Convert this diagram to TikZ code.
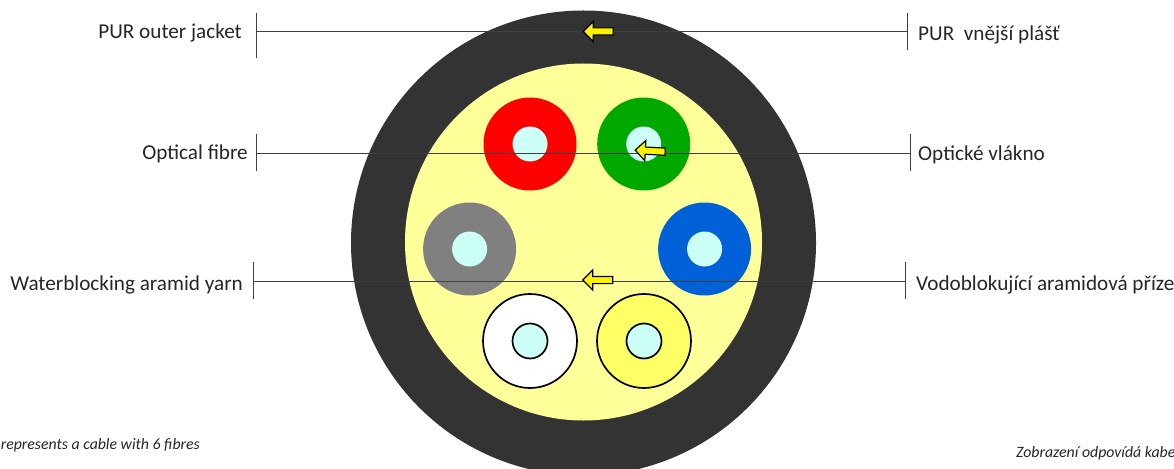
\documentclass[tikz,border=0pt]{standalone}
\usepackage{fontspec}
\setmainfont{Carlito}
\usepackage{xcolor}
\usepackage{tikz}
\usetikzlibrary{shapes.arrows}

\definecolor{jacketgrey}{HTML}{333333}
\definecolor{fillyellow}{HTML}{FFFF99}
\definecolor{coreblue}{HTML}{CCFFF5}
\definecolor{fibregreen}{HTML}{00A800}
\definecolor{fibregrey}{HTML}{808080}
\definecolor{fibreblue}{HTML}{0060D8}
\definecolor{fibreyellow}{HTML}{FFFF66}
\definecolor{leadgrey}{HTML}{404040}

\tikzset{
  disc/.style={circle, inner sep=0pt, minimum size=#1},
  fibre/.style={disc=93pt},
  ringed/.style={disc=94pt, draw=black, line width=1.7pt},
  core/.style={disc=35pt, fill=coreblue},
  ringedcore/.style={disc=35pt, fill=coreblue, draw=black, line width=1.7pt},
  label/.style={inner sep=0pt, font=\fontsize{21.2}{24}\selectfont, text=black!85},
  note/.style={inner sep=0pt, font=\itshape\fontsize{15.8}{19}\selectfont, text=black!85},
  lead/.style={leadgrey, line width=0.7pt},
  marker/.style={single arrow, draw=black, fill=yellow, line width=1.2pt, inner sep=3pt,
    minimum width=19pt, minimum height=30pt, single arrow head extend=6.5pt,
    single arrow tip angle=90, shape border rotate=180},
}

\begin{document}
\begin{tikzpicture}[x=1pt,y=-1pt]
  \useasboundingbox (0,0) rectangle (1174,468);
  \begin{scope}
    \clip (0,0) rectangle (1174,468);
    \node[disc=465pt, fill=jacketgrey] (jacket) at (583.5,243) {};
    \node[disc=357pt, fill=fillyellow] (filler) at (583.5,242) {};
  \end{scope}

  \node[fibre, fill=red] (redfibre) at (530,144) {};
  \node[core] (redcore) at (redfibre) {};
  \node[fibre, fill=fibregreen] (greenfibre) at (643.7,144) {};
  \node[core] (greencore) at (greenfibre) {};
  \node[fibre, fill=fibregrey] (greyfibre) at (469.6,249) {};
  \node[core] (greycore) at (greyfibre) {};
  \node[fibre, fill=fibreblue] (bluefibre) at (704.6,249) {};
  \node[core] (bluecore) at (bluefibre) {};
  \node[ringed, fill=white] (whitefibre) at (530,341) {};
  \node[ringedcore] (whitecore) at (whitefibre) {};
  \node[ringed, fill=fibreyellow] (yellowfibre) at (644,341) {};
  \node[ringedcore] (yellowcore) at (yellowfibre) {};

  % left labels
  \node[label, anchor=east] (jacketen) at (242,33) {PUR outer jacket};
  \node[label, anchor=east] (fibreen) at (248,154) {Optical fibre};
  \node[label, anchor=east] (yarnen) at (243,285) {Waterblocking aramid yarn};
  % right labels
  \node[label, anchor=west] (jacketcz) at (918,35) {PUR\ \ vnější plášť};
  \node[label, anchor=west] (fibrecz) at (918,155) {Optické vlákno};
  \node[label, anchor=west] (yarncz) at (916,285) {Vodoblokující aramidová příze};

  \coordinate (jacketl) at (256,31.5);
  \coordinate (jacketr) at (907,31.5);
  \coordinate (fibrel) at (256,153);
  \coordinate (fibrer) at (910,153);
  \coordinate (yarnl) at (253,281);
  \coordinate (yarnr) at (905,281);

  \draw[lead] (jacketl) -- (jacketr);
  \draw[lead] (fibrel) -- (fibrer);
  \draw[lead] (yarnl) -- (yarnr);
  \draw[lead] (256,13) -- (256,58);
  \draw[lead] (907,13) -- (907,50);
  \draw[lead] (256,134) -- (256,171);
  \draw[lead] (910,134) -- (910,171);
  \draw[lead] (253,262) -- (253,299);
  \draw[lead] (905,262) -- (905,299);

  \node[marker] (jacketmark) at (600,31.5) {};
  \node[marker, rotate=-3] (fibremark) at (652,151) {};
  \node[marker] (yarnmark) at (599.5,280) {};

  \node[note, anchor=east] (noteen) at (200,445.5) {represents a cable with 6 fibres};
  \node[note, anchor=west] (notecz) at (1016,453) {Zobrazení odpovídá kabe};
\end{tikzpicture}
\end{document}
